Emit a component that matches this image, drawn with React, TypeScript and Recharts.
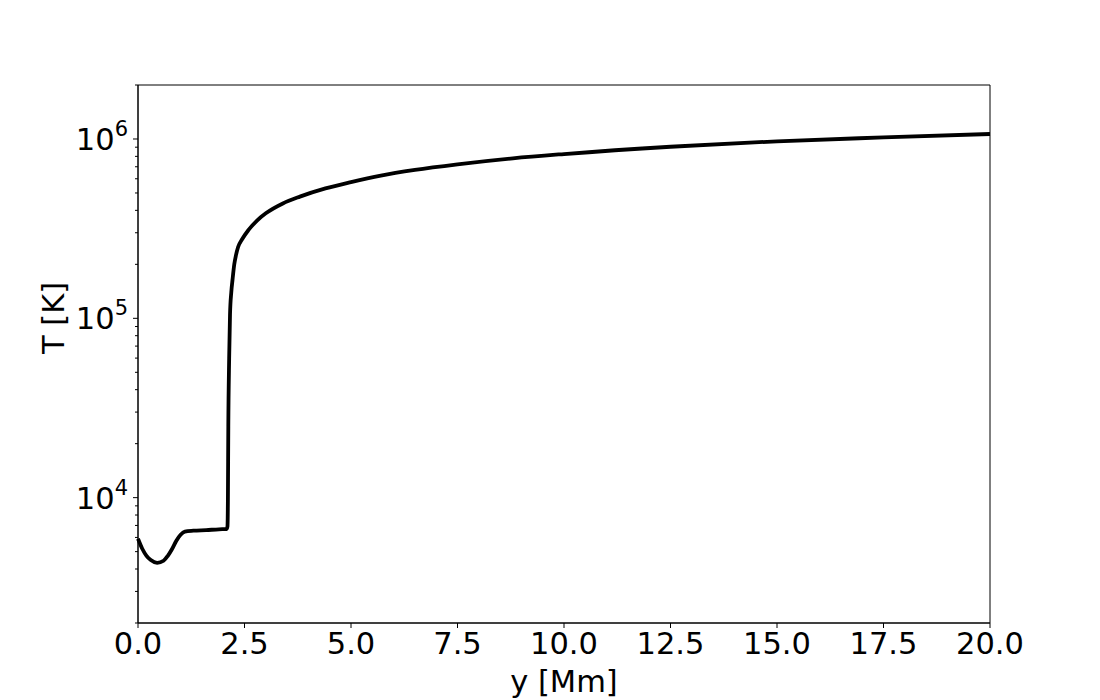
import { LineChart, Line, XAxis, YAxis, ReferenceArea } from "recharts";

// height y [Mm] and temperature T [K]
const heights = [
  0, 0.1, 0.2, 0.3, 0.45, 0.6, 0.7, 0.8, 0.9, 1.0, 1.1, 1.3, 1.6, 1.9, 2.08,
  2.1, 2.11, 2.12, 2.14, 2.16, 2.19, 2.22, 2.26, 2.3, 2.35, 2.44, 2.59, 2.8,
  3.0, 3.4, 3.8, 4.4, 5.0, 5.7, 6.5, 7.5, 8.8, 10, 12.5, 15, 17.5, 20,
];
const temps = [
  5900, 5190, 4740, 4490, 4330, 4450, 4740, 5170, 5750, 6210, 6460, 6540,
  6590, 6660, 6680, 6900, 9500, 25000, 60000, 105000, 140000, 165000, 200000,
  225000, 250000, 275000, 310000, 352000, 385000, 437000, 477000, 530000,
  575000, 625000, 672000, 722000, 780000, 824000, 905000, 971000, 1020000,
  1066000,
];

const xTicks = [0, 2.5, 5, 7.5, 10, 12.5, 15, 17.5, 20];
const majorTicks = [1e4, 1e5, 1e6];
const minorTicks = [
  2000, 3000, 4000, 5000, 6000, 7000, 8000, 9000, 20000, 30000, 40000, 50000,
  60000, 70000, 80000, 90000, 200000, 300000, 400000, 500000, 600000, 700000,
  800000, 900000, 2000000,
];

const data = heights.map((y, i) => ({ y, T: temps[i] }));
const FONT = "DejaVu Sans, sans-serif";
const FS = 30.5;

const YTick = (props: any) => {
  const { x, y, payload } = props;
  const major = majorTicks.includes(payload.value);
  const exp = Math.round(Math.log10(payload.value));
  return (
    <g>
      <line x1={x - (major ? 5 : 3)} x2={x} y1={y} y2={y} stroke="#000" strokeWidth={1} />
      {major && (
        <text x={x - 10} y={y + 11} textAnchor="end" fontFamily={FONT} fontSize={FS} fill="#000">
          10
          <tspan dy={-14} fontSize={21}>{exp}</tspan>
        </text>
      )}
    </g>
  );
};

export default function App() {
  return (
    <div style={{ position: "absolute", left: 0, top: 0, background: "#fff" }}>
      <LineChart
        width={1100}
        height={700}
        data={data}
        margin={{ top: 85, right: 110, bottom: 0, left: 0 }}
      >
        <XAxis
          dataKey="y"
          type="number"
          domain={[0, 20]}
          ticks={xTicks}
          tickFormatter={(v) => v.toFixed(1)}
          height={77}
          tickSize={5}
          tickMargin={4}
          stroke="#000"
          tick={{ fill: "#000", fontSize: FS, fontFamily: FONT }}
          label={{ value: "y [Mm]", position: "insideBottom", offset: 8, fill: "#000", fontSize: FS, fontFamily: FONT }}
        />
        <YAxis
          dataKey="T"
          scale="log"
          domain={[2000, 2000000]}
          allowDataOverflow
          ticks={[...majorTicks, ...minorTicks]}
          interval={0}
          width={138}
          tickSize={0}
          tickMargin={0}
          tickLine={false}
          stroke="#000"
          tick={<YTick />}
          label={{ value: "T [K]", angle: -90, position: "insideLeft", offset: 53, fill: "#000", fontSize: FS, fontFamily: FONT }}
        />
        <ReferenceArea
          x1={0}
          x2={20}
          y1={2000}
          y2={2000000}
          fill="none"
          fillOpacity={0}
          stroke="#000"
          strokeWidth={1}
          ifOverflow="visible"
        />
        <Line
          dataKey="T"
          type="monotone"
          stroke="#000"
          strokeWidth={3.8}
          dot={false}
          isAnimationActive={false}
        />
      </LineChart>
    </div>
  );
}
